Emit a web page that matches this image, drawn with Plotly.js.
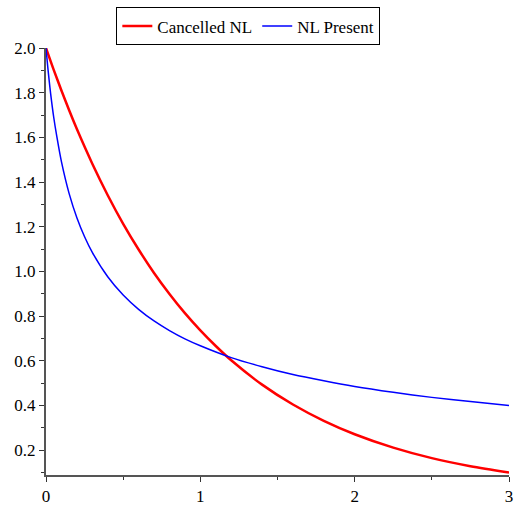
<!DOCTYPE html>
<html>
<head>
<meta charset="utf-8">
<script src="https://cdn.plot.ly/plotly-3.0.1.min.js"></script>
<style>html,body{margin:0;padding:0;background:#fff;}#chart{width:517px;height:506px;}</style>
</head>
<body>
<div id="chart"></div>
<script>
const xCancelled = [0, 0.05, 0.1, 0.15, 0.2, 0.3, 0.4, 0.5, 0.6, 0.7, 0.8, 0.9, 1.0, 1.1, 1.2, 1.4, 1.6, 1.8, 2.0, 2.25, 2.5, 2.75, 3.0];
const yCancelled = [2.0, 1.902, 1.810, 1.721, 1.637, 1.482, 1.341, 1.213, 1.098, 0.993, 0.899, 0.813, 0.736, 0.666, 0.602, 0.493, 0.404, 0.331, 0.271, 0.211, 0.164, 0.128, 0.100];
const xPresent = [0, 0.01, 0.02, 0.03, 0.05, 0.07, 0.1, 0.15, 0.2, 0.25, 0.3, 0.4, 0.5, 0.6, 0.7, 0.8, 0.9, 1.0, 1.2, 1.4, 1.6, 1.8, 2.0, 2.25, 2.5, 2.75, 3.0];
const yPresent = [2.0, 1.925, 1.857, 1.796, 1.690, 1.604, 1.491, 1.348, 1.240, 1.155, 1.085, 0.976, 0.894, 0.830, 0.778, 0.735, 0.698, 0.667, 0.614, 0.573, 0.538, 0.510, 0.485, 0.459, 0.436, 0.417, 0.400];
const seriesNames = ['Cancelled NL', 'NL Present'];
const yTicks = [0.2, 0.4, 0.6, 0.8, 1.0, 1.2, 1.4, 1.6, 1.8, 2.0];
const xTicks = [0, 1, 2, 3];

const FONT = "Liberation Serif";

const traces = [
  {x: xCancelled, y: yCancelled, name: seriesNames[0], type: 'scatter', mode: 'lines',
   line: {color: '#ff0000', width: 2.5, shape: 'spline', smoothing: 0.8}},
  {x: xPresent, y: yPresent, name: seriesNames[1], type: 'scatter', mode: 'lines',
   line: {color: '#0000ff', width: 1.5, shape: 'spline', smoothing: 0.8}}
];

const axisCommon = {
  showgrid: false, zeroline: false, showline: true, linecolor: '#555555', linewidth: 2,
  ticks: 'outside', tickcolor: '#333333', tickwidth: 1, ticklen: 5,
  tickfont: {family: FONT, size: 17, color: '#000'}
};

const layout = {
  width: 517, height: 506,
  margin: {l: 46, r: 8, t: 48, b: 31, autoexpand: false},
  paper_bgcolor: '#fff', plot_bgcolor: '#fff',
  font: {family: FONT, size: 17, color: '#000'},
  showlegend: true,
  legend: {
    orientation: 'h', x: 0.437, xanchor: 'center', y: 1.095, yanchor: 'top',
    bordercolor: '#000', borderwidth: 1, bgcolor: '#fff',
    font: {family: FONT, size: 17, color: '#000'},
    tracegroupgap: 0
  },
  xaxis: Object.assign({}, axisCommon, {
    range: [0, 3], tickvals: xTicks, ticktext: xTicks.map(String),
    minor: {dtick: 0.5, ticks: 'outside', ticklen: 3, tickcolor: '#333333', tickwidth: 1}
  }),
  yaxis: Object.assign({}, axisCommon, {
    range: [0.0885, 2.0], tickvals: yTicks, ticktext: yTicks.map(v => v.toFixed(1)),
    minor: {tick0: 0, dtick: 0.1, ticks: 'outside', ticklen: 3, tickcolor: '#333333', tickwidth: 1}
  })
};

Plotly.newPlot('chart', traces, layout, {displayModeBar: false, staticPlot: true});
</script>
</body>
</html>
